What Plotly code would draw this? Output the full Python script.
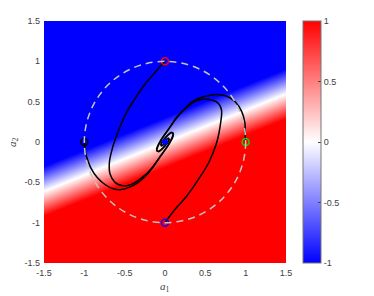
import plotly.graph_objects as go

# ---- field (values read at the four corners of the square, linear in between) ----
field_a1 = [-1.5, 1.5]
field_a2 = [-1.5, 1.5]
field_z = [[2.9, 6.8],      # a2 = -1.5
           [-6.8, -2.9]]    # a2 =  1.5

# ---- trajectories ----
traj_red_a1 = [0.0, -0.10, -0.23, -0.35, -0.48, -0.58, -0.65, -0.69, -0.68, -0.62, -0.54, -0.46, -0.37, -0.27, -0.17, -0.08, 0.0, 0.06, 0.10, 0.10, 0.07, 0.02, -0.03, -0.05, -0.03, 0.0]
traj_red_a2 = [1.0, 0.89, 0.74, 0.57, 0.36, 0.13, -0.07, -0.26, -0.40, -0.50, -0.54, -0.54, -0.50, -0.43, -0.33, -0.21, -0.10, -0.01, 0.07, 0.11, 0.11, 0.07, 0.01, -0.03, -0.04, 0.0]

traj_black_a1 = [-1.0, -0.99, -0.97, -0.92, -0.84, -0.74, -0.64, -0.54, -0.44, -0.33, -0.22, -0.12, -0.04, 0.03, 0.08, 0.10, 0.08, 0.03, -0.02, -0.05, -0.04, -0.01, 0.0]
traj_black_a2 = [0.0, -0.10, -0.19, -0.32, -0.44, -0.53, -0.58, -0.59, -0.56, -0.50, -0.40, -0.27, -0.15, -0.05, 0.04, 0.10, 0.12, 0.08, 0.02, -0.03, -0.05, -0.02, 0.0]

traj_green_a1 = [1.0, 0.995, 0.99, 0.95, 0.87, 0.76, 0.64, 0.52, 0.39, 0.27, 0.14, 0.04, -0.03, -0.08, -0.10, -0.08, -0.03, 0.02, 0.05, 0.04, 0.01, 0.0]
traj_green_a2 = [0.0, 0.07, 0.24, 0.38, 0.50, 0.57, 0.59, 0.57, 0.53, 0.44, 0.30, 0.15, 0.05, -0.04, -0.10, -0.12, -0.08, -0.02, 0.03, 0.05, 0.02, 0.0]

traj_blue_a1 = [0.0, 0.12, 0.27, 0.41, 0.54, 0.64, 0.69, 0.70, 0.66, 0.58, 0.47, 0.37, 0.27, 0.17, 0.08, 0.0, -0.06, -0.10, -0.10, -0.07, -0.02, 0.03, 0.05, 0.03, 0.0]
traj_blue_a2 = [-1.0, -0.84, -0.67, -0.47, -0.26, -0.01, 0.24, 0.40, 0.48, 0.52, 0.53, 0.50, 0.43, 0.33, 0.21, 0.10, 0.01, -0.07, -0.11, -0.11, -0.07, -0.01, 0.03, 0.04, 0.0]

start_a1 = [0.0, -1.0, 1.0, 0.0]
start_a2 = [1.0, 0.0, 0.0, -1.0]
start_colors = ["rgb(255,0,0)", "rgb(0,0,0)", "rgb(0,220,0)", "rgb(0,0,255)"]

equilibrium_a1 = [0.0]
equilibrium_a2 = [0.0]

circle_radius = 1.0

x_ticks = [-1.5, -1, -0.5, 0, 0.5, 1, 1.5]
x_ticktext = ["-1.5", "-1", "-0.5", "0", "0.5", "1", "1.5"]
cb_ticks = [-1, -0.5, 0, 0.5, 1]
cb_ticktext = ["-1", "-0.5", "0", "0.5", "1"]

tick_font = dict(family="Liberation Sans, Arial, sans-serif", size=9, color="#404040")
title_font = dict(family="Liberation Serif, serif", size=11, color="#404040")

fig = go.Figure()

fig.add_trace(go.Heatmap(
    x=field_a1, y=field_a2, z=field_z,
    zmin=-1, zmax=1, zsmooth="best",
    colorscale=[[0, "rgb(0,0,255)"], [0.5, "rgb(255,255,255)"], [1, "rgb(255,0,0)"]],
    hoverinfo="skip",
    colorbar=dict(
        x=(303 - 44) / 242, xanchor="left", xpad=0, ypad=0,
        y=0.5, yanchor="middle", len=1, lenmode="fraction",
        thickness=18, thicknessmode="pixels",
        outlinewidth=1, outlinecolor="#777777",
        tickvals=cb_ticks, ticktext=cb_ticktext,
        ticks="inside", ticklen=3, tickcolor="#444444",
        tickfont=tick_font,
    ),
))

for xs, ys in [(traj_red_a1, traj_red_a2), (traj_black_a1, traj_black_a2),
               (traj_green_a1, traj_green_a2), (traj_blue_a1, traj_blue_a2)]:
    fig.add_trace(go.Scatter(
        x=xs, y=ys, mode="lines",
        line=dict(color="black", width=1.5, shape="spline", smoothing=1.0),
        hoverinfo="skip", showlegend=False,
    ))

fig.add_trace(go.Scatter(
    x=start_a1, y=start_a2, mode="markers",
    marker=dict(symbol="circle-open", size=7, color=start_colors, line=dict(width=1.5, color=start_colors)),
    showlegend=False, hoverinfo="skip",
))
fig.add_trace(go.Scatter(
    x=equilibrium_a1, y=equilibrium_a2, mode="markers",
    marker=dict(symbol="circle", size=6, color="rgb(0,0,255)"),
    showlegend=False, hoverinfo="skip",
))

fig.add_shape(type="circle", xref="x", yref="y",
              x0=-circle_radius, y0=-circle_radius, x1=circle_radius, y1=circle_radius,
              line=dict(color="#c4c4c4", width=1.5, dash="7px,5px"), layer="above")

axis_common = dict(
    range=[-1.5, 1.5], tickvals=x_ticks, ticktext=x_ticktext,
    showgrid=False, zeroline=False, ticks="", showline=False,
    tickfont=tick_font, ticklabelstandoff=3, automargin=False,
)

fig.update_layout(
    width=374, height=296,
    margin=dict(l=44, r=88, t=21, b=33, autoexpand=False),
    paper_bgcolor="white", plot_bgcolor="white",
    showlegend=False,
    xaxis=axis_common,
    yaxis=axis_common,
    annotations=[
        dict(text="<i>a</i><sub>1</sub>", xref="paper", yref="paper", x=0.5, y=0,
             yshift=-24, xanchor="center", yanchor="middle", showarrow=False, font=title_font),
        dict(text="<i>a</i><sub>2</sub>", xref="paper", yref="paper", x=0, y=0.5,
             xshift=-31, xanchor="center", yanchor="middle", textangle=-90, showarrow=False, font=title_font),
    ],
)

fig.write_html("out.html",
               config={"displayModeBar": False, "staticPlot": True},
               post_script="document.body.style.margin='0';document.body.style.padding='0';")
